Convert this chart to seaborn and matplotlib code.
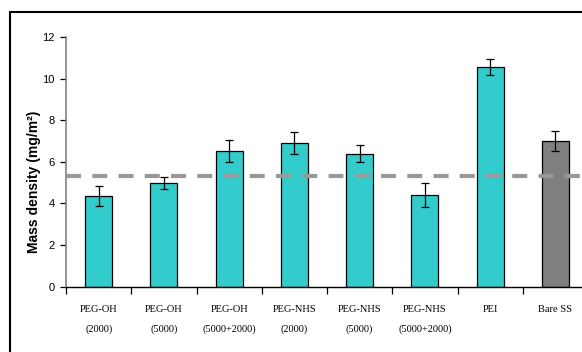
import matplotlib
matplotlib.use("Agg")
import matplotlib.pyplot as plt
import matplotlib.patches as mpatches
from matplotlib.ticker import FixedLocator
import seaborn as sns
import pandas as pd

# Coating conditions and measured surface mass density
categories = ["PEG-OH\n(2000)", "PEG-OH\n(5000)", "PEG-OH\n(5000+2000)",
              "PEG-NHS\n(2000)", "PEG-NHS\n(5000)", "PEG-NHS\n(5000+2000)",
              "PEI", "Bare SS"]
mass_density = [4.35, 4.99, 6.51, 6.90, 6.40, 4.40, 10.56, 7.00]
std_error = [0.48, 0.30, 0.52, 0.52, 0.40, 0.59, 0.38, 0.50]
reference_level = 5.31
y_ticks = [0, 2, 4, 6, 8, 10, 12]

bar_colors = ["#33CCCC"] * 7 + ["#808080"]

sns.set_theme(style="white")
plt.rcParams["font.family"] = ["Liberation Sans", "DejaVu Sans"]

df = pd.DataFrame({"coating": categories, "density": mass_density})

fig = plt.figure(figsize=(5.82, 3.52), dpi=100)
ax = fig.add_axes([66 / 582, 1 - 286.7 / 352, (588 - 66) / 582, (286.7 - 37) / 352])

sns.barplot(data=df, x="coating", y="density", hue="coating",
            palette=bar_colors, legend=False, width=0.41, saturation=1,
            edgecolor="black", linewidth=0.9, ax=ax, errorbar=None)

ax.errorbar(range(len(categories)), mass_density, yerr=std_error,
            fmt="none", ecolor="black", elinewidth=0.9, capsize=2.6,
            capthick=0.9, zorder=5)

ax.axhline(reference_level, color="#999999", linestyle=(0, (3.6, 2.7)),
           linewidth=3.0, zorder=6)

ax.set_ylim(0, 12)
ax.set_xlim(-0.5, len(categories) - 0.5)
ax.set_yticks(y_ticks)
ax.set_yticklabels([str(t) for t in y_ticks], fontsize=8)

ax.set_xlabel("")
ax.set_ylabel("Mass density (mg/m²)", fontsize=10, fontweight="bold",
              color="black")
ax.yaxis.set_label_coords(-0.047, 0.42)

for lbl in ax.get_xticklabels():
    lbl.set_family(["Liberation Serif", "DejaVu Serif"])
    lbl.set_fontsize(7.5)
    lbl.set_linespacing(2.5)

ax.tick_params(axis="x", which="major", length=0, pad=13, colors="black")
ax.xaxis.set_minor_locator(FixedLocator([i - 0.5 for i in range(len(categories) + 1)]))
ax.tick_params(axis="x", which="minor", length=5, width=0.9, direction="out",
               bottom=True, color="black")
ax.tick_params(axis="y", which="major", length=4, width=0.9, direction="out",
               left=True, pad=4, colors="black")

for side in ("top", "right"):
    ax.spines[side].set_visible(False)
ax.spines["left"].set_color("#808080")
ax.spines["left"].set_linewidth(1.2)
ax.spines["bottom"].set_color("black")
ax.spines["bottom"].set_linewidth(1.0)

# Outer frame around the chart area
frame = mpatches.Rectangle((10 / 582, -0.2), 1.2, 1.2 - 12 / 352,
                           transform=fig.transFigure, fill=False,
                           edgecolor="black", linewidth=1.5, clip_on=False)
fig.patches.append(frame)

fig.savefig("out.png", dpi=100)
